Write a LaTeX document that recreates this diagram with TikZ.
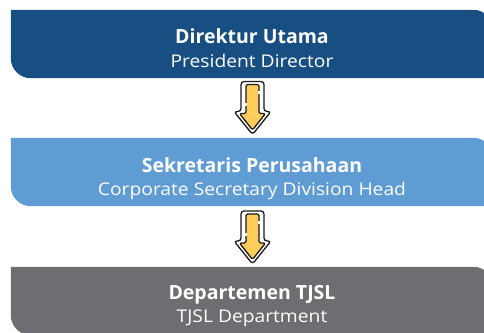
\documentclass[tikz,border=0pt]{standalone}
\usepackage{fontspec}
\setmainfont{Open Sans}
\newfontfamily\subfam[FakeStretch=1.1]{Open Sans}
\usetikzlibrary{calc,backgrounds}
\definecolor{cDark}{RGB}{23,79,130}
\definecolor{cLight}{RGB}{96,156,212}
\definecolor{cGray}{RGB}{109,110,113}
\definecolor{cYellow}{RGB}{253,205,92}
\definecolor{cInk}{RGB}{26,26,26}
\tikzset{
  x=1pt,y=1pt,
  boxnode/.style={minimum width=482pt,minimum height=68pt,inner sep=0pt},
  titletext/.style={text=white,font=\fontsize{19.5}{22}\selectfont\bfseries,anchor=base,inner sep=0pt},
  subtext/.style={text=white,font=\subfam\fontsize{17.5}{20}\selectfont,anchor=base,inner sep=0pt},
  bigarrow/.pic={
    \filldraw[fill=white,draw=cInk,line width=1.3pt,rounded corners=3pt]
      (-11.5,-3.5) -- (-11.5,26.5) -- (11.5,26.5) -- (11.5,-3.5) -- (18.5,-3.5) -- (0,-26.5) -- (-18.5,-3.5) -- cycle;
    \filldraw[fill=cYellow,draw=cInk,line width=1.3pt,rounded corners=1.5pt]
      (-6.5,-5.5) -- (-6.5,23.5) -- (6.5,23.5) -- (6.5,-5.5) -- (13,-5.5) -- (0,-22) -- (-13,-5.5) -- cycle;
    \draw[white,line width=1.2pt] (6.5,17) -- (6.5,14);
    \draw[white,line width=1.2pt] (-6.5,5) -- (-6.5,2);
  }
}
\newcommand{\boxfill}[2]{%
  \fill[#2] (#1.north west) -- ([xshift=-20pt]#1.north east)
    arc[start angle=90,end angle=0,radius=20pt] -- (#1.south east)
    -- ([xshift=20pt]#1.south west)
    arc[start angle=270,end angle=180,radius=20pt] -- cycle;}
\begin{document}
\begin{tikzpicture}
\useasboundingbox (0,0) rectangle (484,-332);
\clip (0,0) rectangle (484,-332);
\node[boxnode] (b1) at (252,-44) {};
\node[boxnode] (b2) at (252,-172) {};
\node[boxnode] (b3) at (252,-301) {};
\begin{scope}[on background layer]
  \boxfill{b1}{cDark}
  \boxfill{b2}{cLight}
  \boxfill{b3}{cGray}
\end{scope}
\node[titletext] (t1) at ([yshift=1pt]b1.center) {Direktur Utama};
\node[subtext] (s1) at ([yshift=-23pt]b1.center) {President Director};
\node[titletext] (t2) at ([yshift=0pt]b2.center) {Sekretaris Perusahaan};
\node[subtext] (s2) at ([yshift=-23pt]b2.center) {Corporate Secretary Division Head};
\node[titletext] (t3) at ([yshift=2pt]b3.center) {Departemen TJSL};
\node[subtext] (s3) at ([yshift=-21pt]b3.center) {TJSL Department};
\pic at ($(b1.south)!0.5!(b2.north)+(0.5,0)$) {bigarrow};
\pic at ($(b2.south)!0.5!(b3.north)+(0.5,-1)$) {bigarrow};
\end{tikzpicture}
\end{document}
